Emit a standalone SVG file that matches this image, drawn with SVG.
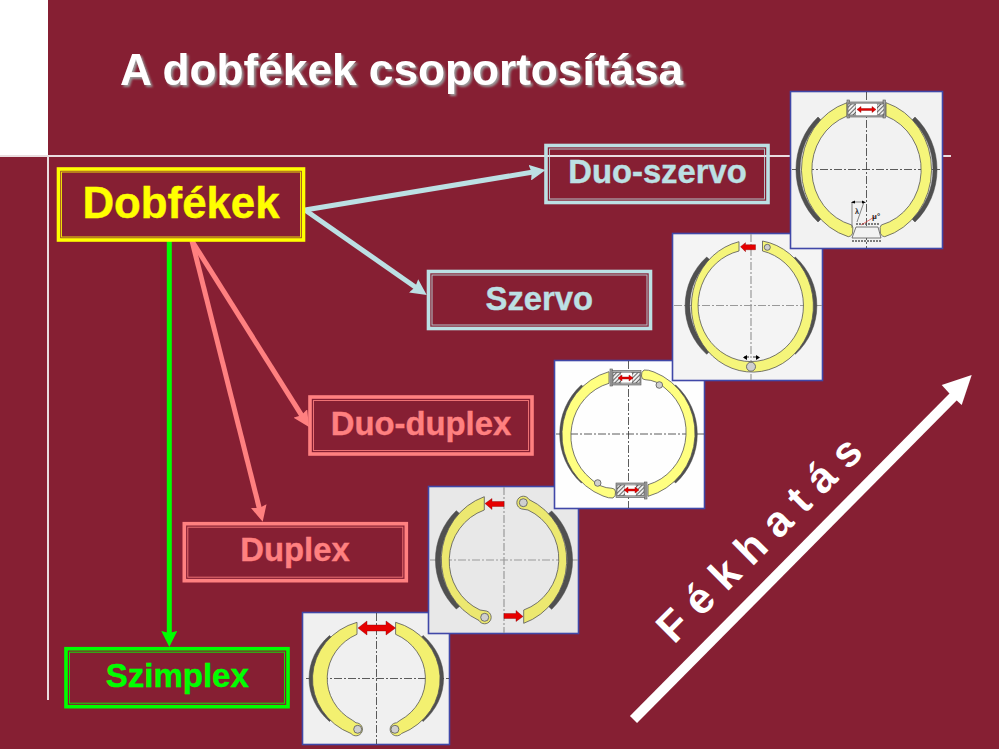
<svg xmlns="http://www.w3.org/2000/svg" xmlns:xlink="http://www.w3.org/1999/xlink" width="999" height="749" viewBox="0 0 999 749">
<style>
text{font-family:"Liberation Sans",Arial,sans-serif;font-weight:700}
.panel{stroke:#4048a8;stroke-width:1.6}
.shoe{stroke:#555;stroke-width:.8;stroke-linejoin:round}
.lining{fill:#505050;stroke:#444;stroke-width:.5}
.pin{fill:#cfcfcf;stroke:#555;stroke-width:.8}
.axis{stroke:#333;stroke-width:.8;stroke-dasharray:8 2 2 2;fill:none}
.axisg{stroke:#999;stroke-width:1.2;stroke-dasharray:8 2 2 2;fill:none}
.red{fill:#e60000;stroke:#800;stroke-width:.4}
.hatch{fill:url(#hatch);stroke:#555;stroke-width:.6}
.cyl{fill:#aaa;stroke:#555;stroke-width:.6}
.outer{fill:none;stroke-width:3.6}
.inner{fill:none;stroke-width:1;opacity:.85}
.lbl{text-anchor:middle;stroke-width:.4}
.conn{fill:none;stroke-width:5}
</style>
<defs>
<pattern id="hatch" width="3" height="3" patternUnits="userSpaceOnUse" patternTransform="rotate(45)"><rect width="3" height="3" fill="#eee"/><rect width="1" height="3" fill="#666"/></pattern>
<filter id="sh" x="-5%" y="-20%" width="110%" height="150%"><feDropShadow dx="2" dy="2" stdDeviation="1" flood-color="#9a9a9a" flood-opacity="1"/></filter>
<marker id="aBlue" markerUnits="userSpaceOnUse" viewBox="0 0 16 16" refX="5" refY="8" markerWidth="16" markerHeight="16" orient="auto"><path d="M0 0L16 8L0 16L2 8Z" fill="#bce0e4"/></marker>
<marker id="aPink" markerUnits="userSpaceOnUse" viewBox="0 0 16 16" refX="5" refY="8" markerWidth="16" markerHeight="16" orient="auto"><path d="M0 0L16 8L0 16L2 8Z" fill="#ff8080"/></marker>
<marker id="aGreen" markerUnits="userSpaceOnUse" viewBox="0 0 16 16" refX="5" refY="8" markerWidth="16" markerHeight="16" orient="auto"><path d="M0 0L16 8L0 16L2 8Z" fill="#00ff00"/></marker>
<g id="cyl3">
<rect class="cyl" x="610" y="369" width="2.500" height="17"/><rect class="cyl" x="612" y="370.500" width="29" height="14.500"/>
<rect class="hatch" x="613" y="372.500" width="8" height="10.500"/><rect class="hatch" x="632" y="372.500" width="8" height="10.500"/><rect x="621" y="373" width="11" height="9.500" fill="#fff"/>
<path class="red" d="M618 378l4-3v2h7v-2l4 3l-4 3v-2h-7v2z"/>
</g>
</defs>
<rect id="background" width="999" height="749" fill="#861f33"/>
<rect x="0" y="0" width="48" height="155" fill="#fff"/>
<path d="M0 156H951M48 156V700" stroke="#eadde0" stroke-width="2" fill="none"/>
<text id="title" x="120" y="85" font-size="44.200" fill="#fff" filter="url(#sh)">A dobfékek csoportosítása</text>

<g id="connectors">
<path class="conn" stroke="#bce0e4" d="M305 210L534.700 171.800" marker-end="url(#aBlue)"/>
<path class="conn" stroke="#bce0e4" d="M305 210L417.700 288.700" marker-end="url(#aBlue)"/>
<path class="conn" stroke="#ff8080" d="M192 241L303.100 417.700" marker-end="url(#aPink)"/>
<path class="conn" stroke="#ff8080" d="M192 241L260 511" marker-end="url(#aPink)"/>
<path class="conn" stroke="#00ff00" d="M169.300 241V636" marker-end="url(#aGreen)"/>
<path d="M633.500 719.500L957 393" stroke="#fff" stroke-width="10" fill="none"/>
<path d="M971.700 375L961.700 405L954 398L949 393L941.700 385Z" fill="#fff"/>
</g>

<g id="node-dobfekek">
<rect class="outer" x="58.500" y="169" width="245" height="71" stroke="#ffff00"/>
<rect class="inner" x="61.500" y="172" width="239" height="65" stroke="#ffff00"/>
<text class="lbl" x="181" y="218" font-size="43.800" fill="#ffff00" stroke="#ffff00">Dobfékek</text>
</g>
<g id="node-duo-szervo">
<rect class="outer" x="546" y="145.500" width="222" height="57" stroke="#bce0e4"/>
<rect class="inner" x="549.500" y="149" width="215" height="50" stroke="#bce0e4"/>
<text class="lbl" x="657.500" y="183" font-size="32.800" fill="#bce0e4" stroke="#bce0e4">Duo-szervo</text>
</g>
<g id="node-szervo">
<rect class="outer" x="428.500" y="271.500" width="222" height="57" stroke="#bce0e4"/>
<rect class="inner" x="432" y="275" width="215" height="50" stroke="#bce0e4"/>
<text class="lbl" x="539.300" y="309.500" font-size="32.800" fill="#bce0e4" stroke="#bce0e4">Szervo</text>
</g>
<g id="node-duo-duplex">
<rect class="outer" x="310" y="397" width="222" height="57" stroke="#ff8080"/>
<rect class="inner" x="313.500" y="400.500" width="215" height="50" stroke="#ff8080"/>
<text class="lbl" x="421" y="435" font-size="32.800" fill="#ff8080" stroke="#ff8080">Duo-duplex</text>
</g>
<g id="node-duplex">
<rect class="outer" x="184.300" y="523.700" width="222" height="57" stroke="#ff8080"/>
<rect class="inner" x="187.800" y="527.200" width="215" height="50" stroke="#ff8080"/>
<text class="lbl" x="295" y="561" font-size="32.800" fill="#ff8080" stroke="#ff8080">Duplex</text>
</g>
<g id="node-szimplex">
<rect class="outer" x="66" y="648.700" width="222" height="58" stroke="#00ff00"/>
<rect class="inner" x="69.500" y="652.200" width="215" height="51" stroke="#00ff00"/>
<text class="lbl" x="177.300" y="686.700" font-size="33" fill="#00ff00" stroke="#00ff00">Szimplex</text>
</g>

<g id="brake-szimplex">
<rect class="panel" x="302.500" y="612.500" width="147" height="132" fill="#f0f0f0"/>
<path class="axis" d="M306 678.500H449M376.500 613V744"/>
<g id="s5">
<path class="lining" d="M329.500 635.500A67.600 60 0 0 0 329.500 721.500L333 718A60 57 0 0 1 333 639Z"/>
<path class="shoe" fill="#f3f070" d="M357 622.300A62 59 0 0 0 351 733.500A6.500 6.500 0 1 0 356 722.800L352.700 720.400A51 48.500 0 0 1 357 634.300Z"/>
<circle class="pin" cx="357.700" cy="729.300" r="4"/>
</g>
<use xlink:href="#s5" href="#s5" transform="matrix(-1 0 0 1 752.600 0)"/>
<path class="red" d="M358 628l9-7v4h19v-4l9.500 7l-9.500 7v-4h-19v4z"/>
</g>

<g id="brake-duplex">
<rect class="panel" x="428.500" y="486.500" width="150" height="147" fill="#e8e8e8"/>
<path class="axisg" d="M430 560H578M504 487V633"/>
<g id="s4">
<path class="lining" d="M456.300 510.700A68.700 68.500 0 0 0 456.300 609L460 606A61 63 0 0 1 460 514Z"/>
<path class="shoe" fill="#ece870" d="M484.300 496.700A63.700 66.600 0 0 0 479 620.500A6.500 6.500 0 1 0 485 610.800L480 610A52.700 54 0 0 1 484.300 510Z"/>
<circle class="pin" cx="484.700" cy="617.300" r="4"/>
<path class="red" d="M485 503.500l7-5v3h12v5h-12v3z"/>
</g>
<use xlink:href="#s4" href="#s4" transform="rotate(180 504 560)"/>
</g>

<g id="brake-duo-duplex">
<rect class="panel" x="554.500" y="360.500" width="150" height="148" fill="#fefefe"/>
<path class="axis" d="M556 434H704M628.500 361V508"/>
<g id="s3">
<path class="lining" d="M581.300 385A68.600 67.300 0 0 0 581.300 483L585 480A60 60 0 0 1 585 388Z"/>
<path class="shoe" fill="#ffff80" d="M609 371.700A63.600 65.400 0 0 0 603 496Q609 498.500 613 498Q616 496 615.500 492Q615.500 488.500 612 488.300Q600 488 591 479A52 54.600 0 0 1 609 383.300Z"/>
<circle class="pin" cx="597.700" cy="483" r="3.300"/>
<use xlink:href="#cyl3" href="#cyl3"/>
</g>
<use xlink:href="#s3" href="#s3" transform="rotate(180 628.500 434)"/>
</g>

<g id="brake-szervo">
<rect class="panel" x="672.500" y="233.500" width="150" height="147" fill="#f4f4f4"/>
<path class="axisg" d="M674 305.500H822M751 234V380"/>
<path class="lining" d="M706.700 257A66 65.800 0 0 0 706.700 354.300L710 351A58 60 0 0 1 710 260Z"/>
<path class="lining" d="M795.300 257A66 65.800 0 0 1 795.300 354.300L792 351A58 60 0 0 0 792 260Z"/>
<path class="shoe" fill="#f5f57a" d="M739 241.700A61 66 0 1 0 762.500 241V251A52.700 56 0 1 1 739 251Z"/>
<circle class="pin" cx="751" cy="366.700" r="4.500"/>
<circle class="pin" cx="767.300" cy="247.300" r="3"/>
<path class="red" d="M740.500 246.700l5-4v2h10v5h-10v2z"/>
<path d="M744 357l5 0M758 357l-5 0" stroke="#000" stroke-width=".8"/>
<path d="M743 357.500l4-2.500v5zM760 357.500l-4-2.500v5z" fill="#000"/>
</g>

<g id="brake-duo-szervo">
<rect class="panel" x="790.500" y="91.500" width="152" height="157" fill="#f2f2f2"/>
<path class="axis" d="M792 169.500H942M866.500 92V248"/>
<g id="s1">
<path class="lining" d="M818 117A70.500 72.300 0 0 0 818 222L821 219A62 66 0 0 1 821 120Z"/>
<path class="shoe" fill="#f5f57a" d="M847 102.700A65 70 0 0 0 848.300 236.700Q853 236 852.700 231Q853.500 227 851.700 225A54 57.300 0 0 1 847 116Z"/>
</g>
<use xlink:href="#s1" href="#s1" transform="matrix(-1 0 0 1 1733 0)"/>
<rect class="cyl" x="847" y="100" width="2.500" height="18"/><rect class="cyl" x="883" y="100" width="2.500" height="18"/>
<rect class="cyl" x="849" y="102" width="34" height="15"/>
<rect class="hatch" x="848" y="104" width="8" height="11"/><rect class="hatch" x="877" y="104" width="7" height="11"/>
<rect x="856" y="104" width="21" height="11" fill="#fff"/>
<path class="red" d="M857 109.500l4-3v2h11v-2l4 3l-4 3v-2h-11v2z"/>
<path d="M852 238L856 227H878L881 238Z" fill="#f2f2f2" stroke="#555" stroke-width=".8"/>
<path d="M856 224H879M852 241H881" stroke="#555" stroke-width="1.300" stroke-dasharray="2 1"/>
<path d="M852 228V202H864L857 222" fill="none" stroke="#666" stroke-width=".8"/>
<path d="M851 202.500l4-2v3zM866 202.500l-4-2v3z" fill="#000"/>
<path d="M861 225L876 216" stroke="#e02020" stroke-width=".6"/>
<text x="855" y="214" font-size="7" fill="#222" font-weight="400">λ</text>
<text x="872" y="219" font-size="8" fill="#222" font-weight="400">μ°</text>
</g>

<text id="fekhatas" transform="translate(674 645) rotate(-45)" font-size="43" fill="#fff" xml:space="preserve">F é k h a t á s</text>
</svg>
